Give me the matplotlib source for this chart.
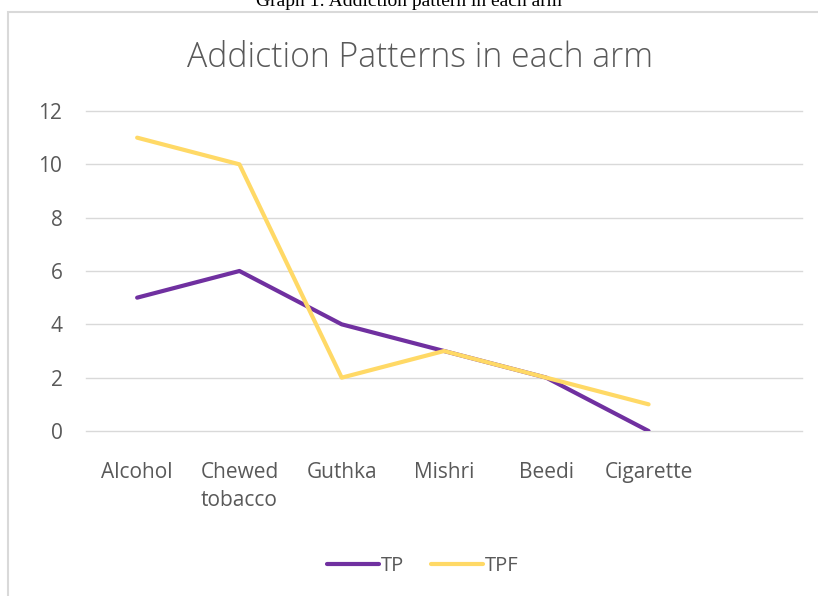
import matplotlib.pyplot as plt
from matplotlib.patches import Rectangle

categories = ["Alcohol", "Chewed\ntobacco", "Guthka", "Mishri", "Beedi", "Cigarette", ""]
tp = [5, 6, 4, 3, 2, 0]
tpf = [11, 10, 2, 3, 2, 1]
y_ticks = [0, 2, 4, 6, 8, 10, 12]

plt.rcParams['font.family'] = ['Open Sans', 'DejaVu Sans']

fig = plt.figure(figsize=(8.18, 5.96), dpi=100)

# chart border
fig.patches.append(Rectangle((8 / 818, -0.01), 1.0, 1 - 12 / 596 + 0.01,
                             transform=fig.transFigure, fill=False,
                             edgecolor="#D9D9D9", linewidth=1.5))

fig.text(0.5, 1 - 6 / 596, "Graph 1: Addiction pattern in each arm",
         ha="center", va="baseline", fontsize=14, family="Liberation Serif")

ax = fig.add_axes([86 / 818, 1 - 431 / 596, 716 / 818, 320 / 596])
x = list(range(len(categories)))
ax.plot(x[:len(tp)], tp, color="#7030A0", linewidth=3, solid_capstyle="round", label="TP")
ax.plot(x[:len(tpf)], tpf, color="#FFD966", linewidth=3, solid_capstyle="round", label="TPF")
ax.set_xlim(-0.5, len(categories) - 0.5)
ax.set_ylim(0, 12)
ax.set_yticks(y_ticks)
ax.set_xticks(x)
ax.set_xticklabels(categories, fontsize=15, color="#595959", va="top", linespacing=1.42)
ax.tick_params(axis="y", labelsize=15, labelcolor="#595959", length=0, pad=17)
ax.tick_params(axis="x", length=0, pad=22.5)
ax.grid(axis="y", color="#D9D9D9", linewidth=1, clip_on=False)
ax.set_axisbelow(True)
for s in ax.spines.values():
    s.set_visible(False)

fig.text(0.513, 1 - 58 / 596, "Addiction Patterns in each arm", ha="center", va="center",
         fontsize=24.3, color="#595959", fontweight="light")

fig.legend(loc="center", bbox_to_anchor=(0.517, 1 - 566 / 596), ncol=2, frameon=False,
           fontsize=14.5, handlelength=2.6, handletextpad=0.1, columnspacing=1.3,
           labelcolor="#595959")

fig.savefig("out.png", dpi=100)
